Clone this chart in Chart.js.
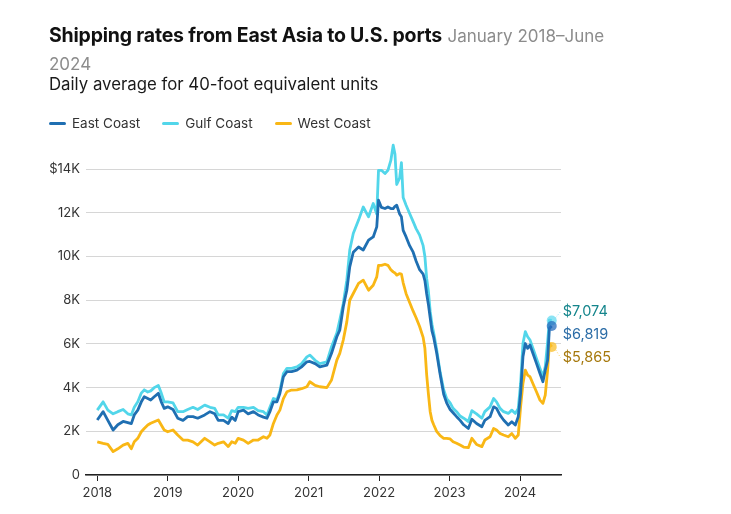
<!DOCTYPE html>
<html>
<head>
<meta charset="utf-8">
<script src="https://cdn.jsdelivr.net/npm/chart.js@4"></script>
<style>
  html, body { margin: 0; padding: 0; background: #fff; }
  body { width: 731px; height: 514px; position: relative; overflow: hidden; font-family: Inter, "Open Sans", sans-serif; }
  #chart { position: absolute; left: 0; top: 0; }
  .title { position: absolute; left: 49px; top: 22px; width: 580px; font-size: 19.5px; line-height: 27px; color: #111; }
  .title b { font-weight: 700; letter-spacing: -0.2px; }
  .title span { color: #8c8c8c; font-weight: 400; font-size: 17px; }
  .subtitle { position: absolute; left: 49px; top: 74px; font-size: 16.8px; color: #1a1a1a; }
  .legend { position: absolute; left: 49px; top: 115px; font-size: 13.5px; color: #333; display: flex; }
  .legend div { display: flex; align-items: center; margin-right: 22px; }
  .legend i { display: inline-block; width: 17px; height: 3px; border-radius: 2px; margin-right: 6px; }
</style>
</head>
<body>
<canvas id="chart" width="731" height="514"></canvas>
<div class="title"><b>Shipping rates from East Asia to U.S. ports</b> <span>January 2018–June 2024</span></div>
<div class="subtitle">Daily average for 40-foot equivalent units</div>
<div class="legend" id="legend"></div>
<script>
// months since January 2018
const months = [
  0, 1, 1.8, 2.7, 3.5, 4.4, 5.2, 5.8, 6.3, 6.9, 7.5, 8.0, 8.6, 9.1, 9.7, 10.4, 10.9, 11.4, 12.0, 12.9, 13.7, 14.6, 15.4, 16.3, 17.1,
  18.3, 19.2, 20.0, 20.6, 21.5, 22.3, 22.9, 23.5, 24.0, 24.9, 25.7, 26.6, 27.4, 28.3, 28.9, 29.4, 30.0, 30.6, 31.1, 31.7, 32.3, 33.1, 34.0,
  34.8, 35.7, 36.2, 37.1, 37.9, 39.1, 39.9, 40.8, 41.3, 41.9, 42.5, 43.0, 43.6, 44.5, 45.3, 46.2, 47.0, 47.6, 47.9,
  48.4, 49.0, 49.5, 50.0, 50.4, 50.7, 51.0, 51.5, 51.8, 52.1, 52.6, 53.2, 53.8, 54.3, 54.9, 55.5, 55.8, 56.1, 56.4, 56.7, 57.0, 57.3, 57.8, 58.4, 59.0, 59.5,
  60.1, 60.6, 61.2, 61.8, 62.4, 63.2, 63.8, 64.6, 65.5, 66.0, 66.9, 67.5, 68.0, 68.6, 69.2, 70.0, 70.6, 71.2, 71.7, 72.1, 72.5, 72.9, 73.3, 73.7, 74.3, 74.8, 75.4, 75.9, 76.3, 76.7, 77.0, 77.4
];

const eastCoast = [
  2520, 2900, 2500, 2060, 2300, 2450, 2400, 2350, 2750, 2970, 3350, 3580, 3500, 3430, 3580, 3740, 3350, 3050, 3120, 3000, 2600, 2500, 2670, 2670, 2600,
  2750, 2900, 2800, 2500, 2500, 2360, 2650, 2500, 2900, 2970, 2800, 2900, 2750, 2650, 2600, 2900, 3350, 3350, 3730, 4500, 4730, 4730, 4800,
  4950, 5180, 5200, 5100, 4950, 5030, 5570, 6330, 6630, 7700, 8460, 9530, 10200, 10440, 10300, 10750, 10900, 11360, 12580,
  12250, 12200, 12270, 12200, 12200, 12300, 12350, 11950, 11820, 11200, 10900, 10500, 10200, 9800, 9400, 9200, 8900, 8300, 7800, 7200, 6600, 6300, 5600, 4600, 3700, 3300,
  3000, 2850, 2670, 2500, 2300, 2130, 2550, 2360, 2210, 2500, 2670, 3120, 3050, 2740, 2520, 2290, 2440, 2290, 2670, 3740, 5410, 6020, 5800, 5950, 5490, 5110, 4650, 4270, 4800, 5260, 6710, 6819
];

const gulfCoast = [
  2970, 3350, 2970, 2800, 2900, 3000, 2800, 2750, 3100, 3350, 3750, 3900, 3800, 3850, 4000, 4100, 3750, 3350, 3350, 3300, 2900, 2900, 3000, 3100, 3000,
  3200, 3100, 3050, 2750, 2750, 2600, 2950, 2900, 3100, 3100, 3050, 3100, 2950, 2900, 2750, 3100, 3500, 3450, 3850, 4650, 4880, 4880, 4950,
  5100, 5410, 5490, 5250, 5100, 5180, 5870, 6500, 7090, 7850, 8920, 10300, 11060, 11670, 12270, 11820, 12430, 11950, 13950,
  13950, 13800, 13950, 14400, 15100, 14700, 13300, 13600, 14300, 12700, 12350, 11970, 11600, 11280, 10980, 10500, 10000, 9000, 8400, 7500, 6900, 6500, 5750, 4700, 3900, 3500,
  3300, 3050, 2900, 2700, 2600, 2450, 2950, 2800, 2600, 2900, 3120, 3500, 3350, 3050, 2900, 2820, 2970, 2820, 3050, 4190, 6020, 6560, 6330, 6180, 5720, 5340, 4880, 4500, 4960, 6100, 7090, 7074
];

const westCoast = [
  1520, 1450, 1400, 1070, 1200, 1370, 1450, 1200, 1520, 1680, 1980, 2130, 2290, 2370, 2440, 2520, 2290, 2060, 1980, 2060, 1830, 1600, 1600, 1520, 1370,
  1680, 1520, 1370, 1450, 1520, 1300, 1520, 1450, 1680, 1600, 1450, 1600, 1600, 1750, 1680, 1830, 2360, 2750, 2970, 3500, 3810, 3890, 3900,
  3950, 4040, 4270, 4100, 4040, 4000, 4350, 5260, 5570, 6180, 7010, 8000, 8310, 8770, 8920, 8460, 8690, 9070, 9600,
  9600, 9650, 9600, 9400, 9300, 9250, 9150, 9220, 9200, 8800, 8300, 7900, 7500, 7200, 6800, 6300, 5800, 4600, 3700, 2900, 2500, 2300, 2000, 1800, 1680, 1680,
  1650, 1520, 1450, 1370, 1280, 1250, 1680, 1400, 1300, 1600, 1750, 2130, 2060, 1900, 1830, 1750, 1900, 1680, 1830, 3120, 4190, 4800, 4570, 4500, 4120, 3810, 3430, 3280, 3660, 4800, 6020, 5865
];

const seriesNames = ['East Coast', 'Gulf Coast', 'West Coast'];
const yearTicks = [0, 12, 24, 36, 48, 60, 72];
const yearLabels = ['2018', '2019', '2020', '2021', '2022', '2023', '2024'];
const yTicks = [0, 2000, 4000, 6000, 8000, 10000, 12000, 14000];
const yTickLabels = ['0', '2K', '4K', '6K', '8K', '10K', '12K', '$14K'];

const lineColors = ['#1f6fb2', '#52d6ea', '#f9b715'];
const markerColors = ['rgba(40,110,190,0.75)', 'rgba(90,215,240,0.7)', 'rgba(250,190,40,0.75)'];
const labelColors = ['#2b6ca6', '#14858c', '#a5780c'];
const labelOffsets = [9, -9, 11];

const allSeries = [eastCoast, gulfCoast, westCoast];

document.getElementById('legend').innerHTML = seriesNames
  .map((n, i) => `<div><i style="background:${lineColors[i]}"></i>${n}</div>`).join('');

const endLabels = {
  id: 'endLabels',
  afterDatasetsDraw(chart) {
    const ctx = chart.ctx;
    ctx.save();
    ctx.font = '14.5px Inter, "Open Sans", sans-serif';
    ctx.textBaseline = 'middle';
    chart.data.datasets.forEach((ds, i) => {
      const meta = chart.getDatasetMeta(i);
      const pt = meta.data[meta.data.length - 1];
      const v = ds.data[ds.data.length - 1].y;
      const ly = pt.y + labelOffsets[i];
      if (i !== 0) {
        ctx.strokeStyle = markerColors[i];
        ctx.setLineDash([1, 2]);
        ctx.lineWidth = 1;
        ctx.beginPath();
        ctx.moveTo(pt.x + 4, pt.y + Math.sign(labelOffsets[i]) * 3);
        ctx.lineTo(pt.x + 9, ly);
        ctx.stroke();
        ctx.setLineDash([]);
      }
      ctx.fillStyle = labelColors[i];
      ctx.fillText('$' + v.toLocaleString('en-US'), pt.x + 11, ly);
    });
    ctx.restore();
  }
};

new Chart(document.getElementById('chart'), {
  type: 'line',
  data: {
    datasets: allSeries.map((vals, i) => ({
      label: seriesNames[i],
      data: vals.map((v, j) => ({ x: months[j], y: v })),
      borderColor: lineColors[i],
      borderWidth: 2.8,
      tension: 0,
      pointRadius: vals.map((_, j) => j === vals.length - 1 ? 5 : 0),
      pointBackgroundColor: markerColors[i],
      pointBorderWidth: 0,
      borderJoinStyle: 'round',
      clip: false
    }))
  },
  options: {
    responsive: false,
    animation: false,
    devicePixelRatio: 1,
    layout: { padding: { top: 143, right: 170, left: 0, bottom: 0 } },
    plugins: { legend: { display: false }, tooltip: { enabled: false } },
    events: [],
    scales: {
      x: {
        type: 'linear',
        min: -1.92,
        max: 78.98,
        afterBuildTicks: s => { s.ticks = yearTicks.map(v => ({ value: v })); },
        afterFit: s => { s.height = 39; },
        ticks: {
          autoSkip: false,
          maxRotation: 0,
          padding: 4,
          color: '#333',
          font: { family: 'Inter', size: 13 },
          callback: (v) => yearLabels[yearTicks.indexOf(v)]
        },
        grid: { drawOnChartArea: false, drawTicks: true, tickLength: 6, color: '#222' },
        border: { display: true, color: '#222', width: 1.5 }
      },
      y: {
        min: 0,
        max: 15200,
        afterBuildTicks: s => { s.ticks = yTicks.map(v => ({ value: v })); },
        afterFit: s => { s.width = 86; },
        ticks: {
          padding: 6,
          color: '#333',
          font: { family: 'Inter', size: 13 },
          callback: (v) => yTickLabels[yTicks.indexOf(v)]
        },
        grid: { color: '#d6d6d6', drawTicks: false },
        border: { display: false }
      }
    }
  },
  plugins: [endLabels]
});
</script>
</body>
</html>
